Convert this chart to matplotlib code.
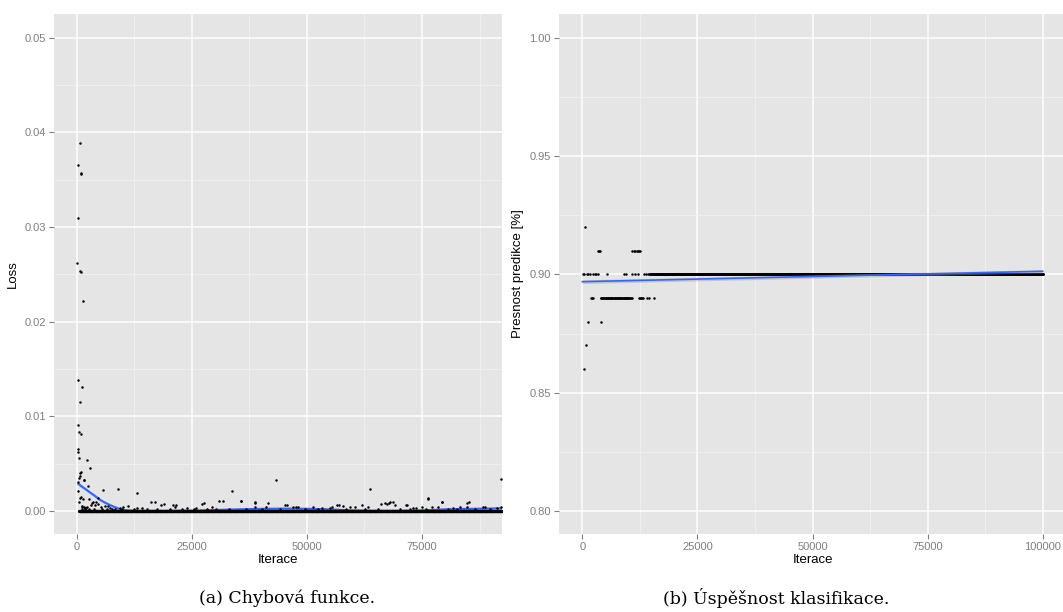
import numpy as np
import matplotlib
matplotlib.use("Agg")
import matplotlib.pyplot as plt

# ---------------- data: (a) loss ----------------
# sparse / outlying loss observations (iteration, loss)
loss_x = [650, 220, 830, 900, 220, 65, 790, 860, 1370, 220, 1220, 780, 220, 500, 930,
          350, 220, 500, 2240, 930, 780, 2950, 700, 600, 5710, 8900, 13100, 2520,
          33670, 43220, 63640, 76370, 76400, 92160, 35690, 38700, 41600, 79300, 85100,
          68800, 67900, 66900, 57000, 31800, 27700, 21600, 16900, 19000, 45600, 71700,
          720, 400, 1100, 1170, 1500, 1900, 2170, 2740, 3600, 4000, 4300, 4700, 5200,
          6200, 7200, 4560, 1650, 350, 1000, 1430, 220, 1590, 10100, 11200, 13200,
          14100, 16200, 18300, 21000, 21350, 27150, 29300, 31000, 35700, 38730, 38730,
          41120, 45240, 47000, 47600, 48100, 51300, 53200, 55000, 55400, 56500, 57800,
          59400, 60500, 61900, 63300, 66200, 67300, 68000, 69100, 71500, 73000, 73800,
          74900, 77100, 78500, 79300, 81700, 83200, 84800, 84800, 88300, 88700, 91200,
          92100, 3000, 3300, 2000, 6800, 9500, 24000, 26000,
          1200, 1800, 2600, 3800, 5600, 6500, 7700, 8300, 9900, 12400, 15200, 17500,
          20300, 22800, 25400, 28300, 30200, 33000, 36800, 40300, 44200, 49500, 52400,
          58600, 62600, 65400, 70300, 72400, 75800, 80600, 82600, 86500, 89800]
loss_y = [0.03888, 0.03659, 0.03570, 0.03560, 0.03100, 0.02617, 0.02536, 0.02528,
          0.02215, 0.01381, 0.01310, 0.01155, 0.00912, 0.00835, 0.00817, 0.00652,
          0.00627, 0.00557, 0.00539, 0.00412, 0.00401, 0.00454, 0.00370, 0.00350,
          0.00222, 0.00229, 0.00193, 0.00264, 0.00215, 0.00324, 0.00229, 0.00137,
          0.00130, 0.00341, 0.00106, 0.00090, 0.00088, 0.00100, 0.00095, 0.00100,
          0.00080, 0.00080, 0.00060, 0.00110, 0.00080, 0.00060, 0.00090, 0.00070,
          0.00060, 0.00060, 0.00134, 0.00095, 0.00056, 0.00040, 0.00045, 0.00035,
          0.00040, 0.00124, 0.00100, 0.00060, 0.00090, 0.00070, 0.00040, 0.00050,
          0.00030, 0.00140, 0.00330, 0.00210, 0.00145, 0.00130, 0.00310, 0.00330,
          0.00040, 0.00050, 0.00030, 0.00030, 0.00092, 0.00060, 0.00060, 0.00040,
          0.00070, 0.00040, 0.00110, 0.00110, 0.00088, 0.00045, 0.00045, 0.00063,
          0.00040, 0.00040, 0.00040, 0.00040, 0.00035, 0.00035, 0.00040, 0.00063,
          0.00050, 0.00040, 0.00040, 0.00060, 0.00040, 0.00070, 0.00074, 0.00091,
          0.00060, 0.00060, 0.00030, 0.00030, 0.00040, 0.00040, 0.00045, 0.00091,
          0.00030, 0.00040, 0.00084, 0.00046, 0.00040, 0.00040, 0.00030, 0.00040,
          0.00060, 0.00080, 0.00030, 0.00050, 0.00030, 0.00030, 0.00030,
          0.00025, 0.00020, 0.00025, 0.00020, 0.00025, 0.00020, 0.00020, 0.00025,
          0.00020, 0.00020, 0.00020, 0.00025, 0.00020, 0.00020, 0.00025, 0.00020,
          0.00020, 0.00025, 0.00020, 0.00020, 0.00025, 0.00020, 0.00020, 0.00025,
          0.00020, 0.00025, 0.00020, 0.00020, 0.00025, 0.00020, 0.00025, 0.00020,
          0.00025]
# dense floor of logged iterations whose loss reads as 0.000
floor_iter = np.arange(600, 92301, 100)
floor_loss = np.zeros(len(floor_iter))

# loess smooth of the loss
smooth_x = [200, 1000, 2000, 3000, 4000, 5000, 6000, 7000, 8000, 9000, 10000, 12000,
            15000, 20000, 25000, 30000, 35000, 40000, 45000, 50000, 55000, 60000,
            65000, 70000, 75000, 80000, 85000, 90000, 92400]
smooth_y = [0.00293, 0.00262, 0.00228, 0.00192, 0.00158, 0.00120, 0.00092, 0.00068,
            0.00046, 0.00027, 0.00010, 0.00002, 0.0, 0.0, 0.00002, 0.00010, 0.00017,
            0.00022, 0.00025, 0.00023, 0.00017, 0.00005, 0.0, 0.0, 0.00005, 0.00017,
            0.00022, 0.00026, 0.00028]

# ---------------- data: (b) accuracy ----------------
acc_levels_x = {
    0.92: [590],
    0.91: [3500, 3650, 3800, 10900, 11200, 11500, 11800, 12100, 12400, 12600],
    0.90: [100, 400, 950, 1300, 1700, 2300, 2700, 3000, 3400, 5300, 9000, 9500, 10900,
           11400, 12200, 13400, 13800, 14300],
    0.89: [1800, 2000, 2250, 4000, 4150, 4300, 4450, 4600, 4750, 4900, 5050, 5200, 5350,
           5500, 5650, 5800, 5950, 6100, 6250, 6400, 6550, 6700, 6850, 7000, 7150, 7300,
           7450, 7600, 7750, 7900, 8050, 8200, 8350, 8500, 8650, 8800, 8950, 9100, 9250,
           9400, 9550, 9700, 9850, 10000, 10150, 10300, 10500, 10700, 12300, 12500,
           12700, 13000, 13200, 14100, 14500, 15650],
    0.88: [1300, 4100],
    0.87: [850],
    0.86: [400],
}
acc_dense_iter = np.arange(14700, 100001, 100)
acc_dense_val = 0.90
fit_x = [0, 100000]
fit_y = [0.8969, 0.9013]
fit_se = [0.0008, 0.0007]

# ---------------- styling ----------------
W, H = 1063, 612
plt.rcParams["font.family"] = ["Liberation Sans", "DejaVu Sans"]
fig = plt.figure(figsize=(W / 100, H / 100), dpi=100)
fig.patch.set_facecolor("white")

BG = "#E5E5E5"
GRID_MAJ = "white"
GRID_MIN = "#F2F2F2"
TICKC = "#7F7F7F"
BLUE = "#3366FF"


def style(ax, xmaj, ymaj, xmin, ymin):
    ax.set_facecolor(BG)
    for s in ax.spines.values():
        s.set_visible(False)
    ax.set_xticks(xmaj)
    ax.set_yticks(ymaj)
    ax.set_xticks(xmin, minor=True)
    ax.set_yticks(ymin, minor=True)
    ax.grid(True, which="major", color=GRID_MAJ, linewidth=1.1)
    ax.grid(True, which="minor", color=GRID_MIN, linewidth=0.5)
    ax.set_axisbelow(True)
    ax.tick_params(which="major", length=3.5, width=0.8, color=TICKC,
                   labelcolor=TICKC, labelsize=8, pad=2.5)
    ax.tick_params(which="minor", length=0)


def px(x0, y0, x1, y1):
    return [x0 / W, 1 - y1 / H, (x1 - x0) / W, (y1 - y0) / H]


# ---- left panel ----
ax1 = fig.add_axes(px(54, 14, 502, 534))
style(ax1, [0, 25000, 50000, 75000], [0.0, 0.01, 0.02, 0.03, 0.04, 0.05],
      [12500, 37500, 62500, 87500], [0.005, 0.015, 0.025, 0.035, 0.045])
ax1.set_xticklabels(["0", "25000", "50000", "75000"])
ax1.set_yticklabels(["0.00", "0.01", "0.02", "0.03", "0.04", "0.05"])
ax1.plot(smooth_x, smooth_y, color=BLUE, linewidth=1.6, zorder=2, solid_capstyle="butt")
ax1.scatter(floor_iter, floor_loss, s=5.5, color="black", linewidths=0, zorder=3)
ax1.scatter(loss_x, loss_y, s=3.2, color="black", linewidths=0, zorder=3)
ax1.set_xlim(-4930, 92376)
ax1.set_ylim(-0.00243, 0.05251)
ax1.set_xlabel("Iterace", fontsize=9.5, color="black", labelpad=1.5)
ax1.set_ylabel("Loss", fontsize=9.5, color="black", labelpad=4)

# ---- right panel ----
ax2 = fig.add_axes(px(559.3, 14, 1065.7, 534))
style(ax2, [0, 25000, 50000, 75000, 100000], [0.80, 0.85, 0.90, 0.95, 1.00],
      [12500, 37500, 62500, 87500], [0.825, 0.875, 0.925, 0.975])
ax2.set_xticklabels(["0", "25000", "50000", "75000", "100000"])
ax2.set_yticklabels(["0.80", "0.85", "0.90", "0.95", "1.00"])
for lvl, xs in acc_levels_x.items():
    ax2.scatter(xs, [lvl] * len(xs), s=3.2, color="black", linewidths=0, zorder=3)
ax2.scatter(acc_dense_iter, np.full(len(acc_dense_iter), acc_dense_val), s=4.5,
            color="black", linewidths=0, zorder=3)
fy = np.array(fit_y)
fs = np.array(fit_se)
ax2.fill_between(fit_x, fy - fs, fy + fs, color="#999999", alpha=0.4, linewidth=0, zorder=4)
ax2.plot(fit_x, fit_y, color=BLUE, linewidth=1.2, zorder=5)
ax2.set_xlim(-5000, 105000)
ax2.set_ylim(0.79028, 1.01002)
ax2.set_xlabel("Iterace", fontsize=9.5, color="black", labelpad=1.5)
ax2.set_ylabel("Presnost predikce [%]", fontsize=9.5, color="black", labelpad=4)

# ---- captions ----
fig.text(287 / W, 1 - 598 / H, "(a) Chybová funkce.", family="DejaVu Serif",
         fontsize=12.5, ha="center", va="center")
fig.text(776 / W, 1 - 598 / H, "(b) Úspěšnost klasifikace.", family="DejaVu Serif",
         fontsize=12.5, ha="center", va="center")

fig.savefig("out.png", dpi=100, facecolor="white")
